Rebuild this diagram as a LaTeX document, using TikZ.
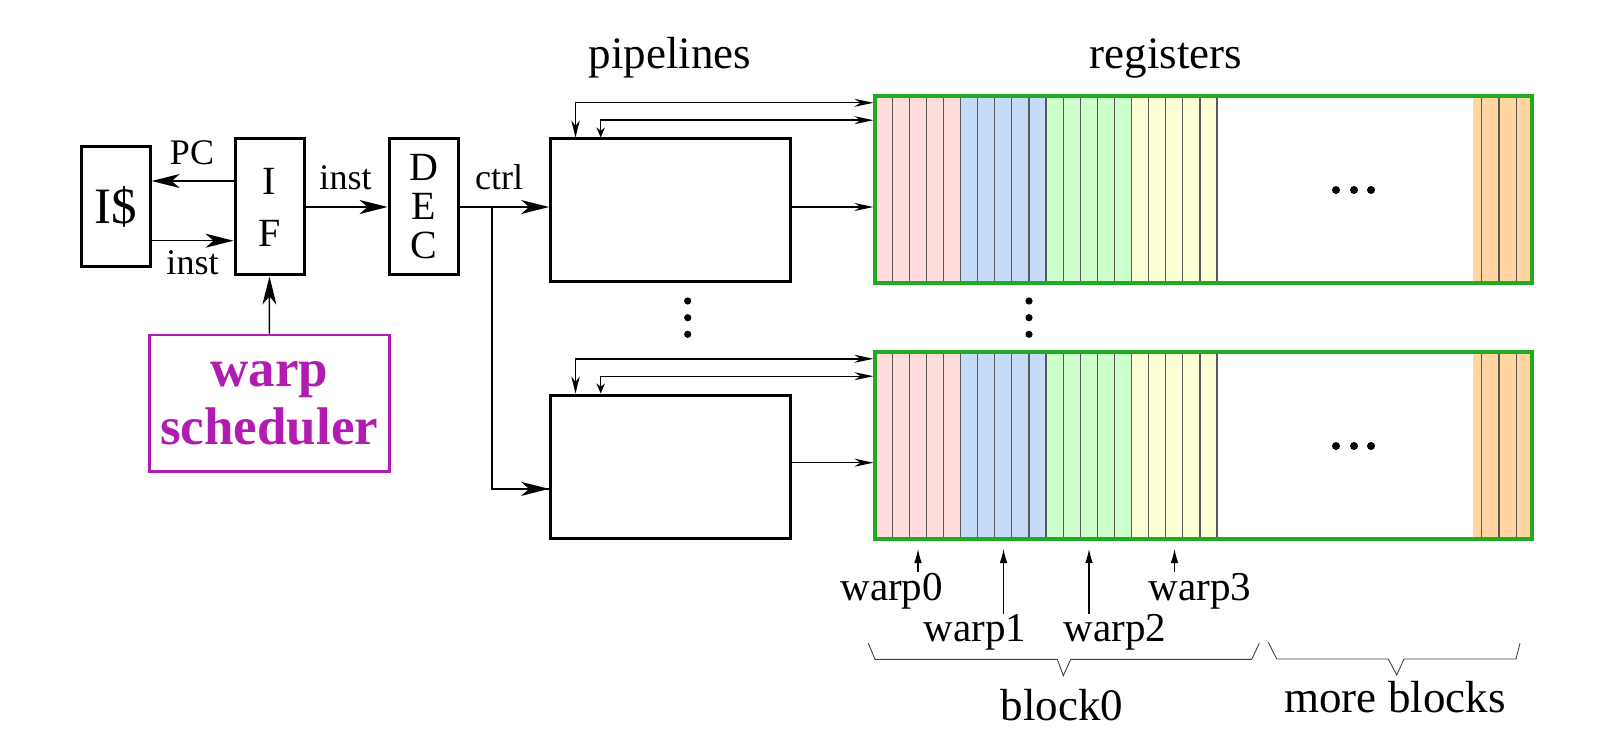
\documentclass[tikz,border=0pt]{standalone}
\usepackage{fontspec}
\setmainfont{Liberation Serif}
\usetikzlibrary{arrows.meta}

\definecolor{schedpurple}{RGB}{176,28,176}
\definecolor{regborder}{RGB}{34,170,34}
\definecolor{wpink}{RGB}{255,221,221}
\definecolor{wblue}{RGB}{197,219,248}
\definecolor{wgreen}{RGB}{204,255,204}
\definecolor{wyellow}{RGB}{255,255,214}
\definecolor{worange}{RGB}{255,214,162}

\begin{document}
\begin{tikzpicture}[x=0.5pt,y=-0.5pt,
  unit/.style={draw,line width=1.5pt,inner sep=0pt,align=center,minimum width=34.5pt,minimum height=68pt},
  pipebox/.style={draw,line width=1.5pt,minimum width=119.7pt,minimum height=71.5pt},
  regbox/.style={draw=regborder,line width=1.6pt,minimum width=328.5pt,minimum height=93.5pt},
  lbl/.style={font=\fontsize{18}{20}\selectfont,anchor=base,inner sep=0pt},
  hdg/.style={font=\fontsize{22.5}{26}\selectfont,anchor=base,inner sep=0pt},
  warplbl/.style={font=\fontsize{20.5}{24}\selectfont,anchor=base,inner sep=0pt},
  bus/.style={line width=0.7pt,-{Stealth[length=14pt,width=7pt,inset=4pt]}},
  regarrow/.style={line width=0.7pt,-{Stealth[length=9.5pt,width=4pt]}},
  warparrow/.style={line width=0.55pt,-{Latex[length=7pt,width=3.8pt]}},
  stripe/.style={line width=0.6pt,draw=black!65},
  bracepath/.style={line width=0.45pt,draw=black!75},
  ]
\useasboundingbox (0,0) rectangle (1620,748);

% front end
\node[unit,minimum height=60pt,minimum width=34.2pt,font=\fontsize{25.5}{28}\selectfont] (icache) at (116,206.7) {I\$};
\node[unit,font=\fontsize{20}{26}\selectfont] (ifu) at (269.5,207) {I\\F};
\node[unit,font=\fontsize{20}{19.5}\selectfont] (dec) at (423.5,207) {D\\E\\C};
\node[draw=schedpurple,line width=1.3pt,text=schedpurple,minimum width=120pt,minimum height=68.3pt,
  align=center,font=\fontsize{26.5}{29}\selectfont\bfseries] (sched) at (269.3,403.3) {warp\\scheduler};

\draw[bus] ([yshift=13pt]ifu.west) -- ([yshift=13pt]ifu.west -| icache.east);
\draw[bus] ([yshift=-17pt]icache.east) -- ([yshift=-17pt]icache.east -| ifu.west);
\draw[bus] (ifu) -- (dec);
\draw[bus] (sched.north) -- (ifu.south);

\node[lbl] (pclbl) at (192,164.3) {PC};
\node[lbl] (ilbl1) at (192.5,275) {inst};
\node[lbl] (ilbl2) at (345.5,190) {inst};
\node[lbl] (ctrllbl) at (499,190) {ctrl};

% pipelines
\node[hdg] (pipehdg) at (670,69) {pipelines};
\node[pipebox] (pipe1) at (670.3,210.5) {};
\node[pipebox] (pipe2) at (670.3,466.5) {};
\coordinate (split) at (492,207);
\draw[bus] (dec.east) -- (dec.east -| pipe1.west);
\draw[line width=0.7pt] (split) |- ([yshift=-11.2pt]pipe2.west);
\draw[bus] ([yshift=-11.2pt]pipe2.west -| split) -- ([yshift=-11.2pt]pipe2.west);
\foreach \yy in {301,317.7,334.3} \fill (687.7,\yy) circle (1.8pt);

% register files
\node[hdg] (reghdg) at (1166,69) {registers};
\foreach \ry in {96,352} {
  \foreach \c [count=\i from 0] in {wpink,wblue,wgreen,wyellow}
    \fill[\c] (875+85.5*\i,\ry) rectangle ++(85.5,187);
  \fill[worange] (1473,\ry) rectangle (1532,\ry+187);
  \foreach \k in {1,...,20} \draw[stripe] (875+17.1*\k,\ry) -- ++(0,187);
  \foreach \xx in {1481.7,1499,1516.3} \draw[stripe] (\xx,\ry) -- ++(0,187);
  \foreach \xx in {1336,1354,1371} \fill (\xx,\ry+94) circle (2pt);
}
\node[regbox] (reg1) at (1203.5,189.5) {};
\node[regbox] (reg2) at (1203.5,445.5) {};
\foreach \yy in {301,317.7,334.3} \fill (1029,\yy) circle (1.8pt);

\draw[regarrow] (pipe1.east |- split) -- (reg1.west |- split);
\draw[regarrow] ([yshift=1.9pt]pipe2.east) -- ([yshift=1.9pt]pipe2.east -| reg2.west);
\draw[line width=0.7pt,{Stealth[length=8.5pt,width=4.2pt]}-{Stealth[length=9.5pt,width=4pt]}]
  ([xshift=13.2pt]pipe1.north west) |- ([yshift=-4.2pt]reg1.north west);
\draw[line width=0.7pt,{Stealth[length=5pt,width=4.2pt]}-{Stealth[length=9.5pt,width=4pt]}]
  ([xshift=25.8pt]pipe1.north west) |- ([yshift=-12.9pt]reg1.north west);
\draw[line width=0.7pt,{Stealth[length=8.5pt,width=4.2pt]}-{Stealth[length=9.5pt,width=4pt]}]
  ([xshift=13.2pt]pipe2.north west) |- ([yshift=-4.2pt]reg2.north west);
\draw[line width=0.7pt,{Stealth[length=5pt,width=4.2pt]}-{Stealth[length=9.5pt,width=4pt]}]
  ([xshift=25.8pt]pipe2.north west) |- ([yshift=-12.9pt]reg2.north west);

% warps and blocks
\node[warplbl] (warp0) at (891.7,600) {warp0};
\node[warplbl] (warp1) at (975,641.7) {warp1};
\node[warplbl] (warp2) at (1115,641.7) {warp2};
\node[warplbl] (warp3) at (1200,600) {warp3};
\coordinate (w0) at (918,549);
\coordinate (w1) at (1003.5,549);
\coordinate (w2) at (1089,549);
\coordinate (w3) at (1174.5,549);
\draw[warparrow] (warp0.north -| w0) -- (w0);
\draw[warparrow] (warp1.north -| w1) -- (w1);
\draw[warparrow] (warp2.north -| w2) -- (w2);
\draw[warparrow] (warp3.north -| w3) -- (w3);

\draw[bracepath] (868.3,643.3) -- (875,659.3) -- (1057.3,659.3) -- (1063.3,675.7) -- (1070.7,659.3) -- (1251.7,659.3) -- (1259.3,643.3);
\draw[bracepath] (1268.3,642.3) -- (1276.7,659) -- (1388.3,659) -- (1396.7,675) -- (1404,659) -- (1516,659) -- (1520,643);
\node[hdg] (blk0) at (1062,720) {block0};
\node[hdg] (blkmore) at (1395,712) {more blocks};
\end{tikzpicture}
\end{document}
